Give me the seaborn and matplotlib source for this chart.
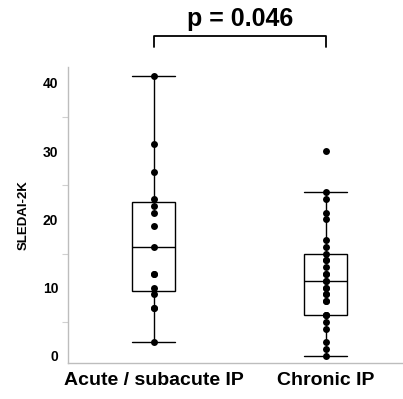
import numpy as np
import pandas as pd
import matplotlib
matplotlib.use("Agg")
import matplotlib.pyplot as plt
import seaborn as sns

# values (duplicates hidden behind each other)
acute = [2, 7, 7, 9, 10, 12, 12, 16, 19, 21, 22, 23, 27, 31, 41]
chronic = [0, 1, 2, 4, 5, 6, 6, 6, 8, 8, 9, 9, 10, 10, 11, 11, 12, 12, 13,
           14, 14, 15, 16, 17, 20, 21, 23, 24, 30]
groups = ["Acute / subacute IP", "Chronic IP"]
p_text = "p = 0.046"

df = pd.DataFrame({
    "group": [groups[0]] * len(acute) + [groups[1]] * len(chronic),
    "score": acute + chronic,
})

sns.set_style("white")
plt.rcParams["font.family"] = ["Liberation Sans", "DejaVu Sans"]
plt.rcParams["font.weight"] = "bold"
plt.rcParams["text.color"] = "black"
plt.rcParams["axes.labelcolor"] = "black"

fig = plt.figure(figsize=(4.03, 3.99), dpi=100)
ax = fig.add_axes([0.1687, 0.089, 0.8313, 0.743])

line = dict(color="black", linewidth=1.0)
sns.boxplot(data=df, x="group", y="score", order=groups, width=0.25,
            showfliers=False, whis=1.5, ax=ax,
            boxprops=dict(facecolor="white", edgecolor="black", linewidth=1.0),
            medianprops=line, whiskerprops=line, capprops=line,
            capwidths=0.25)
sns.stripplot(data=df, x="group", y="score", order=groups, jitter=False,
              color="black", size=5.0, ax=ax, zorder=5)

ax.set_xlim(-0.5, 1.45)
ax.set_ylim(-1.1, 42.3)
ax.set_yticks([0, 10, 20, 30, 40])
ax.set_yticks([5, 15, 25, 35], minor=True)
ax.set_xlabel("")
ax.set_ylabel("SLEDAI-2K", fontsize=9.5, fontweight="bold", color="black")
ax.yaxis.set_label_coords(-0.115, 0.5)

sns.despine(ax=ax)
for s in ["left", "bottom"]:
    ax.spines[s].set_color("#bdbdbd")
    ax.spines[s].set_linewidth(1.0)

ax.tick_params(axis="y", which="major", length=5, width=0.8, color="#bdbdbd",
               pad=2, labelsize=10, labelcolor="black")
ax.tick_params(axis="y", which="minor", length=4, width=0.8, color="#d0d0d0", left=True)
ax.tick_params(axis="x", length=0, pad=6, labelsize=14, labelcolor="black")
for t in ax.get_xticklabels() + ax.get_yticklabels():
    t.set_fontweight("bold")

# significance bracket
ax.plot([0, 0, 1, 1], [45.3, 46.8, 46.8, 45.3], color="black", linewidth=1.3,
        clip_on=False)
ax.text(0.5, 48.3, p_text, ha="center", va="baseline", fontsize=18,
        fontweight="bold", color="black")

fig.savefig("out.png", dpi=100)
